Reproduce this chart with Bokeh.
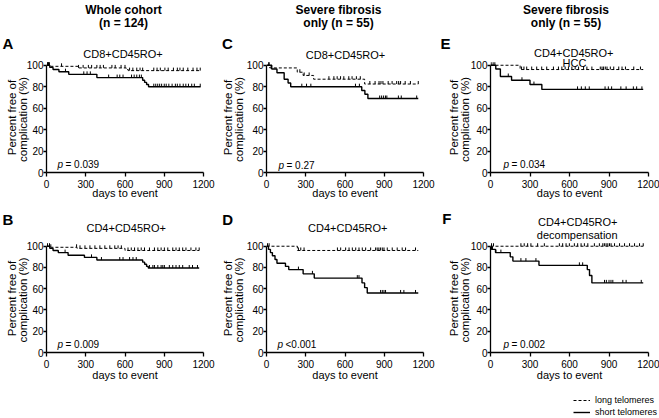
import numpy as np
from bokeh.plotting import figure
from bokeh.models import Range1d, FixedTicker, Legend, LegendItem, GridBox
from bokeh.core.properties import value
from bokeh.embed import file_html
from bokeh.resources import INLINE

FONT = "Liberation Sans"

# ---------------- data (days, percent free of complication) ----------------
x_ticks = [0, 300, 600, 900, 1200]
y_ticks = [0, 20, 40, 60, 80, 100]

# A: whole cohort, CD8+CD45RO+
A_long_t = [0, 30, 240, 610, 625]
A_long_s = [100, 99, 97.5, 96, 95]
A_long_end = 1178
A_long_cens = [8, 15, 22, 115, 245, 280, 320, 345, 385, 410, 435, 500, 525, 570, 600, 635, 660, 690,
               715, 735, 820, 845, 870, 905, 930, 970, 1000, 1020, 1045, 1080, 1120, 1150, 1175]
A_short_t = [0, 25, 50, 95, 170, 385, 735, 750, 765, 780]
A_short_s = [100, 98, 96, 94, 91.5, 88.5, 86, 84, 82, 80]
A_short_end = 1178
A_short_cens = [10, 18, 145, 285, 310, 335, 475, 540, 560, 585, 650, 670, 690, 710, 725, 820, 835, 850,
                865, 880, 900, 915, 935, 960, 985, 1000, 1020, 1045, 1065, 1085, 1110, 1130, 1175]

# B: whole cohort, CD4+CD45RO+
B_long_t = [0, 20, 233, 600]
B_long_s = [100, 99, 98, 96]
B_long_end = 1167
B_long_cens = [8, 23, 33, 230, 256, 294, 332, 370, 408, 446, 484, 522, 547, 572, 623, 648, 673, 699, 724,
               749, 787, 825, 851, 876, 901, 927, 965, 990, 1015, 1041, 1066, 1104, 1142, 1167]
B_short_t = [0, 25, 50, 90, 165, 290, 385, 735, 750, 765, 778]
B_short_s = [100, 98, 96, 94, 91.5, 89.5, 87, 85, 83, 81, 79.5]
B_short_end = 1167
B_short_cens = [23, 142, 344, 420, 560, 585, 635, 661, 686, 787, 813, 825, 851, 876, 889, 901, 939, 965,
                990, 1015, 1041, 1091, 1116, 1154]

# C: severe fibrosis, CD8+CD45RO+
C_long_t = [0, 25, 235, 280, 360, 750]
C_long_s = [100, 97.5, 93.5, 90.5, 87, 82.5]
C_long_end = 1160
C_long_cens = [17, 35, 255, 288, 326, 477, 515, 540, 566, 591, 629, 654, 687, 717, 790, 830, 860, 875,
               890, 930, 960, 995, 1010, 1025, 1060, 1100, 1160]
C_short_t = [0, 40, 80, 135, 165, 185, 728, 752, 775]
C_short_s = [100, 96.5, 93, 87, 83.5, 80, 76.5, 73, 69]
C_short_end = 1160
C_short_cens = [20, 270, 306, 339, 680, 710, 865, 880, 895, 910, 920, 1008, 1030, 1148]

# D: severe fibrosis, CD4+CD45RO+
D_long_t = [0, 236]
D_long_s = [100, 96]
D_long_end = 1160
D_long_cens = [8, 20, 244, 262, 287, 542, 567, 605, 631, 656, 682, 707, 732, 758, 796, 834, 846, 859,
               872, 885, 898, 923, 961, 999, 1037, 1063, 1139]
D_short_t = [0, 15, 30, 45, 65, 80, 145, 170, 280, 365, 730, 750, 770]
D_short_s = [100, 97, 94, 91, 87.5, 84, 81, 78, 74, 70, 65.5, 61, 56]
D_short_end = 1160
D_short_cens = [244, 351, 694, 707, 872, 885, 898, 910, 1025, 1050, 1139]

# E: severe fibrosis, CD4+CD45RO+, HCC
E_long_t = [0, 225]
E_long_s = [100, 96]
E_long_end = 1160
E_long_cens = [5, 20, 33, 236, 254, 275, 313, 351, 389, 427, 478, 516, 542, 567, 592, 618, 643, 669,
               707, 732, 770, 834, 847, 859, 872, 885, 910, 936, 974, 999, 1025, 1088, 1139]
E_short_t = [0, 40, 75, 160, 300, 390]
E_short_s = [100, 96.5, 89.5, 86, 82, 77.5]
E_short_end = 1160
E_short_cens = [135, 239, 330, 661, 690, 720, 750, 870, 895, 920, 990, 1030, 1085, 1110, 1150]

# F: severe fibrosis, CD4+CD45RO+, decompensation
F_long_t = [0]
F_long_s = [100]
F_long_end = 1160
F_long_cens = [8, 23, 231, 256, 282, 307, 358, 409, 523, 548, 574, 599, 637, 662, 688, 713, 739, 789,
               827, 853, 865, 878, 891, 904, 916, 942, 980, 1018, 1056, 1094, 1132, 1160]
F_short_t = [0, 8, 38, 150, 170, 368, 735, 752, 770]
F_short_s = [100, 97, 94, 90, 86, 82, 78, 72.5, 65.5]
F_short_end = 1160
F_short_cens = [15, 41, 79, 231, 269, 345, 675, 700, 866, 880, 900, 915, 929, 1005, 1030, 1145]

letters = ["A", "B", "C", "D", "E", "F"]
subtitles = [["CD8+CD45RO+"], ["CD4+CD45RO+"], ["CD8+CD45RO+"], ["CD4+CD45RO+"],
             ["CD4+CD45RO+", "HCC"], ["CD4+CD45RO+", "decompensation"]]
p_values = ["= 0.039", "= 0.009", "= 0.27", "<0.001", "= 0.034", "= 0.002"]
col_titles = [["Whole cohort", "(n = 124)"], ["Severe fibrosis", "only (n = 55)"],
              ["Severe fibrosis", "only (n = 55)"]]
ylabel_lines = ["Percent free of", "complication (%)"]
xlabel = "days to event"
legend_labels = ["long telomeres", "short telomeres"]

series = {
    "A": (A_long_t, A_long_s, A_long_end, A_long_cens, A_short_t, A_short_s, A_short_end, A_short_cens),
    "B": (B_long_t, B_long_s, B_long_end, B_long_cens, B_short_t, B_short_s, B_short_end, B_short_cens),
    "C": (C_long_t, C_long_s, C_long_end, C_long_cens, C_short_t, C_short_s, C_short_end, C_short_cens),
    "D": (D_long_t, D_long_s, D_long_end, D_long_cens, D_short_t, D_short_s, D_short_end, D_short_cens),
    "E": (E_long_t, E_long_s, E_long_end, E_long_cens, E_short_t, E_short_s, E_short_end, E_short_cens),
    "F": (F_long_t, F_long_s, F_long_end, F_long_cens, F_short_t, F_short_s, F_short_end, F_short_cens),
}

# ---------------- layout geometry (pixels) ----------------
W, H = 659, 418
COL_W = [220, 220, 219]
COL_BL = [46, 46, 50]
COL_BR = [17, 17, 11]
ROW_H = [205, 213]
ROW_BT = [61, 37]
ROW_BB = [33, 66]
XLAB_STANDOFF = [-4, -2]

# text anchors in page pixels (x, baseline y)
title_xy = [(123, 9.5, 22), (338, 9.5, 22), (565.5, 9.5, 22)]
letter_xy = {"A": (2, 43), "B": (2, 219), "C": (221.5, 43.3), "D": (221.7, 219),
             "E": (440, 43), "F": (441.7, 218)}
sub_xy = {"A": [(122.5, 53.8)], "B": [(125.7, 227.2)], "C": [(345, 54.8)], "D": [(347.3, 227.2)],
          "E": [(573.3, 52.2), (574, 62.2)], "F": [(577.3, 221.2), (576.7, 234.5)]}
pval_xy = {"A": (57, 164), "B": (57, 343.5), "C": (278, 164.5), "D": (277, 344),
           "E": (503, 164), "F": (503, 343.5)}
ylab_x = [(11.7, 22.5), (227.5, 238.5), (453, 464)]
ylab_y = [(117, 119), (298, 299.5)]


def steps(t, s, end):
    return list(t) + [end], list(s) + [s[-1]]


def at(t, s, c):
    idx = np.searchsorted(np.asarray(t), np.asarray(c), side="right") - 1
    return list(np.asarray(s)[idx])


grid = [["A", "C", "E"], ["B", "D", "F"]]
children = []
for ri in range(2):
    for ci in range(3):
        key = grid[ri][ci]
        p = figure(width=COL_W[ci], height=ROW_H[ri], x_range=Range1d(0, 1200), y_range=Range1d(0, 103.5),
                   output_backend="svg", toolbar_location=None, tools="",
                   min_border_left=COL_BL[ci], min_border_right=COL_BR[ci],
                   min_border_top=ROW_BT[ri], min_border_bottom=ROW_BB[ri])
        p.outline_line_color = None
        p.xgrid.visible = False
        p.ygrid.visible = False
        p.background_fill_color = "white"
        p.border_fill_color = "white"
        for ax in (p.xaxis[0], p.yaxis[0]):
            ax.axis_line_width = 1.3
            ax.axis_line_color = "black"
            ax.major_tick_line_width = 1.3
            ax.major_tick_line_color = "black"
            ax.major_tick_in = 0
            ax.minor_tick_line_color = None
            ax.major_label_text_font = FONT
            ax.major_label_text_font_size = "10px"
            ax.major_label_text_color = "black"
        p.xaxis.ticker = FixedTicker(ticks=x_ticks)
        p.yaxis.ticker = FixedTicker(ticks=y_ticks)
        p.xaxis.bounds = (0, 1200)
        p.yaxis.bounds = (0, 100)
        p.xaxis.major_tick_out = 4
        p.yaxis.major_tick_out = 3
        p.xaxis.major_label_standoff = 3
        p.yaxis.major_label_standoff = 0
        p.xaxis.axis_label = xlabel
        p.xaxis.axis_label_text_font = FONT
        p.xaxis.axis_label_text_font_size = "11px"
        p.xaxis.axis_label_text_font_style = "normal"
        p.xaxis.axis_label_text_color = "black"
        p.xaxis.axis_label_standoff = XLAB_STANDOFF[ri]

        lt, ls, lend, lc, st, ss, send, sc = series[key]
        lx, ly = steps(lt, ls, lend)
        sx, sy = steps(st, ss, send)
        p.step(lx, ly, mode="after", line_color="black", line_width=1, line_dash="3 2")
        p.step(sx, sy, mode="after", line_color="black", line_width=1.4)
        p.ray(x=lc, y=at(lt, ls, lc), length=3, length_units="screen", angle=np.pi / 2,
              line_color="black", line_width=1)
        p.ray(x=sc, y=at(st, ss, sc), length=3, length_units="screen", angle=np.pi / 2,
              line_color="black", line_width=1)
        # panels sit in grid rows 1..2 / cols 1..3; the empty outer tracks have zero size
        children.append((p, ri + 1, ci + 1))

# ---------------- transparent text layer over the whole page ----------------
ov = figure(width=W, height=H, x_range=Range1d(0, W), y_range=Range1d(0, H),
            output_backend="svg", toolbar_location=None, tools="",
            x_axis_location=None, y_axis_location=None,
            min_border_left=0, min_border_right=0, min_border_top=0, min_border_bottom=0)
ov.outline_line_color = None
ov.xgrid.visible = False
ov.ygrid.visible = False
ov.background_fill_alpha = 0
ov.border_fill_alpha = 0


def put(xs, ys, texts, size, style="normal", align="center", angle=0.0):
    ov.text(x=list(xs), y=[H - y for y in ys], text=list(texts), text_font=value(FONT),
            text_font_size=value(size), text_font_style=style, text_align=align,
            text_baseline="alphabetic", angle=angle, text_color="black")


# column titles
tx, ty, tt = [], [], []
for ci in range(3):
    x0, y1, y2 = title_xy[ci]
    tx += [x0, x0]
    ty += [y1, y2]
    tt += col_titles[ci]
put(tx, ty, tt, "12px", style="bold")

# panel letters
put([letter_xy[k][0] for k in letters], [letter_xy[k][1] for k in letters], letters, "15px",
    style="bold", align="left")

# subtitles
sx_, sy_, st_ = [], [], []
for i, k in enumerate(letters):
    for (x0, y0), line in zip(sub_xy[k], subtitles[i]):
        sx_.append(x0)
        sy_.append(y0)
        st_.append(line)
put(sx_, sy_, st_, "11px")

# p values
put([pval_xy[k][0] for k in letters], [pval_xy[k][1] for k in letters], ["p"] * 6, "10px",
    style="italic", align="left")
put([pval_xy[k][0] + 8 for k in letters], [pval_xy[k][1] for k in letters], p_values, "10px",
    align="left")

# y axis titles (rotated, two lines)
yx, yy, yt = [], [], []
for ri in range(2):
    for ci in range(3):
        for li in range(2):
            yx.append(ylab_x[ci][li])
            yy.append(ylab_y[ri][li])
            yt.append(ylabel_lines[li])
put(yx, yy, yt, "11.5px", angle=np.pi / 2)

# legend: hidden copies of panel F's two curves supply the legend glyphs
flx, fly = steps(F_long_t, F_long_s, F_long_end)
fsx, fsy = steps(F_short_t, F_short_s, F_short_end)
r_long = ov.line(x=flx, y=fly, line_color="black", line_width=1, line_dash="3 2", visible=False)
r_short = ov.line(x=fsx, y=fsy, line_color="black", line_width=1.4, visible=False)
legend = Legend(items=[LegendItem(label=legend_labels[0], renderers=[r_long]),
                       LegendItem(label=legend_labels[1], renderers=[r_short])],
                location=(573, 0), orientation="vertical")
legend.padding = 0
legend.margin = 0
legend.spacing = 0
legend.glyph_width = 17
legend.glyph_height = 12
legend.label_height = 12
legend.label_standoff = 5
legend.label_text_font = FONT
legend.label_text_font_size = "9px"
legend.label_text_color = "black"
legend.border_line_color = None
legend.background_fill_alpha = 0
legend.inactive_fill_alpha = 0
ov.add_layout(legend)

# overlay spans all tracks including the empty outer ones, so its frame is not aligned to the panels
children.append((ov, 0, 0, 4, 5))
layout = GridBox(children=children, spacing=0)
open("out.html", "w").write(file_html(layout, INLINE))
